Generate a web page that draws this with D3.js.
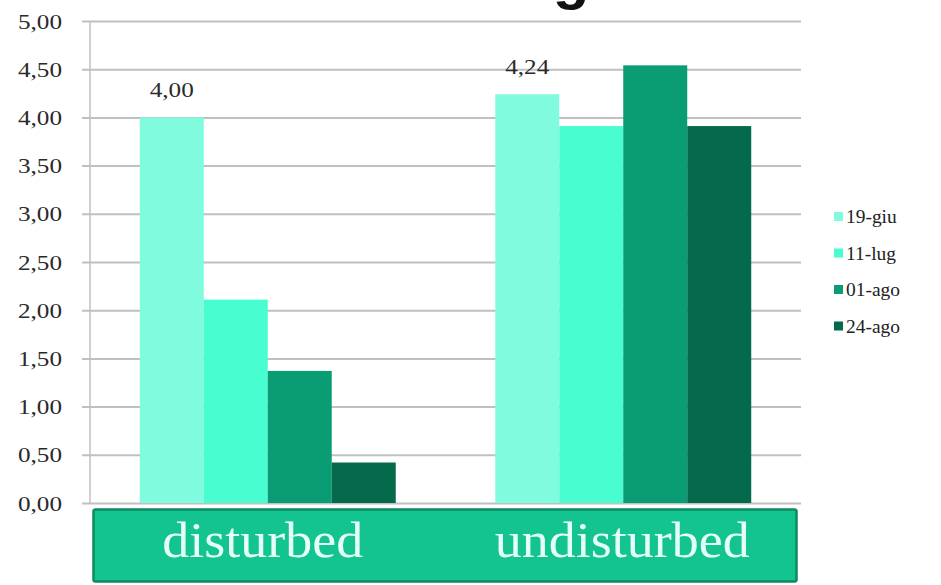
<!DOCTYPE html>
<html>
<head>
<meta charset="utf-8">
<script src="https://cdn.jsdelivr.net/npm/d3@7"></script>
<style>
  html, body { margin: 0; padding: 0; background: #fff; }
  svg { display: block; }
  text { font-family: "Liberation Serif", "Times New Roman", serif; }
</style>
</head>
<body>
<svg id="chart" width="941" height="585"></svg>
<script>
// Sites and sampling dates
const categories = ["disturbed", "undisturbed"];
const dates = ["19-giu", "11-lug", "01-ago", "24-ago"];

// Values per date, one entry per site
const val_19giu = [4.00, 4.24];
const val_11lug = [2.11, 3.91];
const val_01ago = [1.37, 4.54];
const val_24ago = [0.42, 3.91];
const seriesValues = [val_19giu, val_11lug, val_01ago, val_24ago];

// Only the first series carries value labels
const labelledSeries = "19-giu";

const yTicks = [0, 0.5, 1, 1.5, 2, 2.5, 3, 3.5, 4, 4.5, 5];
const colors = ["#80fbde", "#48fdd0", "#0a9c72", "#05694b"];

const svg = d3.select("#chart");
const plot = { left: 90, right: 801, top: 21, bottom: 503 };
const SX = 1.2; // text is drawn slightly wide

const fmt = v => d3.format(".2f")(v).replace(".", ",");

// Title, mostly above the top edge of the page
svg.append("text")
  .attr("transform", "translate(571,-2)")
  .attr("text-anchor", "middle")
  .style("font-family", "'Liberation Sans', Arial, sans-serif")
  .style("font-weight", "bold")
  .style("font-size", "60px")
  .attr("fill", "#111")
  .text("g");

const y = d3.scaleLinear().domain([0, 5]).range([plot.bottom, plot.top]);
const x0 = d3.scaleBand().domain(categories)
  .range([plot.left, plot.right]).paddingInner(0.28).paddingOuter(0.14);
const x1 = d3.scaleBand().domain(dates).range([0, x0.bandwidth()]).padding(0);
const color = d3.scaleOrdinal().domain(dates).range(colors);

// Gridlines + tick labels
const yAxis = svg.append("g")
  .attr("transform", `translate(${plot.left},0)`)
  .call(d3.axisLeft(y).tickValues(yTicks).tickFormat(fmt)
    .tickSize(-(plot.right - plot.left)).tickSizeOuter(0));
yAxis.select(".domain").remove();
yAxis.selectAll(".tick line")
  .attr("x1", -8)
  .attr("stroke", "#c0c0c0").attr("stroke-width", 2);
yAxis.selectAll(".tick text")
  .attr("x", null).attr("dy", null)
  .attr("transform", `translate(-28,7) scale(${SX},1)`)
  .attr("text-anchor", "end")
  .style("font-size", "21px")
  .attr("fill", "#2a2a2a");

// Vertical axis line
svg.append("line")
  .attr("x1", plot.left).attr("x2", plot.left)
  .attr("y1", plot.top).attr("y2", plot.bottom)
  .attr("stroke", "#c0c0c0").attr("stroke-width", 1.5);

// Bars
const rows = categories.map((c, i) => ({
  cat: c,
  items: dates.map((d, j) => ({ date: d, value: seriesValues[j][i] }))
}));

const groups = svg.append("g").selectAll("g").data(rows).join("g")
  .attr("transform", d => `translate(${x0(d.cat)},0)`);

groups.selectAll("rect").data(d => d.items).join("rect")
  .attr("x", d => x1(d.date))
  .attr("width", x1.bandwidth())
  .attr("y", d => y(d.value))
  .attr("height", d => y(0) - y(d.value))
  .attr("fill", d => color(d.date));

groups.selectAll("text.val").data(d => d.items.filter(e => e.date === labelledSeries))
  .join("text").attr("class", "val")
  .attr("transform", d => `translate(${x1(d.date) + x1.bandwidth() / 2},${y(d.value) - 20}) scale(${SX},1)`)
  .attr("text-anchor", "middle")
  .style("font-size", "21px")
  .attr("fill", "#2a2a2a")
  .text(d => fmt(d.value));

// Category banner under the plot
svg.append("rect")
  .attr("x", 93.5).attr("y", 509.5)
  .attr("width", 703).attr("height", 72)
  .attr("rx", 2)
  .attr("fill", "#13c490")
  .attr("stroke", "#0c8a63").attr("stroke-width", 2.5);

svg.append("g").selectAll("text").data(categories).join("text")
  .attr("transform", (d, i) => `translate(${x0(d) + x0.bandwidth() / 2 - (i === 0 ? 5 : 1)},557) scale(1.08,1)`)
  .attr("text-anchor", "middle")
  .style("font-size", "50px")
  .attr("fill", "#e4fff5")
  .text(d => d);

// Legend
const legend = svg.append("g").selectAll("g").data(dates).join("g")
  .attr("transform", (d, i) => `translate(834,${217 + i * 36.5})`);
legend.append("rect")
  .attr("x", 0).attr("y", -5).attr("width", 9).attr("height", 9)
  .attr("fill", d => color(d));
legend.append("text")
  .attr("transform", `translate(12,6) scale(1.08,1)`)
  .style("font-size", "18px")
  .attr("fill", "#222")
  .text(d => d);
</script>
</body>
</html>
